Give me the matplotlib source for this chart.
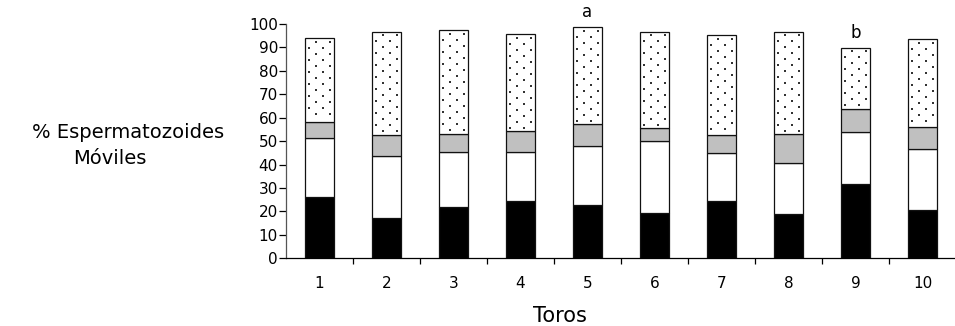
import numpy as np
import matplotlib.pyplot as plt

plt.rcParams['font.family'] = ['DejaVu Sans']

toros = ['1', '2', '3', '4', '5', '6', '7', '8', '9', '10']
# cumulative tops of each stacked segment (% motile sperm)
negro = [26.3, 17.1, 21.8, 24.6, 22.9, 19.5, 24.6, 18.9, 31.9, 20.6]
blanco_top = [51.3, 43.7, 45.5, 45.5, 47.9, 50.2, 44.8, 40.8, 53.8, 46.7]
gris_top = [58.3, 52.5, 53.1, 54.3, 57.2, 55.5, 52.5, 53.1, 63.6, 56.0]
punteado_top = [93.9, 96.7, 97.4, 95.7, 98.6, 96.7, 95.3, 96.7, 89.9, 93.5]
letras = {5: 'a', 9: 'b'}

negro = np.array(negro)
blanco_top = np.array(blanco_top)
gris_top = np.array(gris_top)
punteado_top = np.array(punteado_top)

x = np.arange(1, len(toros) + 1)
w = 0.42
W, H = 955, 326

fig = plt.figure(figsize=(W / 100, H / 100), dpi=100)
pos = [286 / W, 1 - 258.3 / H, 670 / W, 234.3 / H]
ax = fig.add_axes(pos)
ax.set_xlim(0.5, 10.5)
ax.set_ylim(0, 100)

ec = '#111111'
ax.bar(x, negro, w, color='black', edgecolor=ec, linewidth=0.9)
ax.bar(x, blanco_top - negro, w, bottom=negro, color='white', edgecolor=ec, linewidth=0.9)
ax.bar(x, gris_top - blanco_top, w, bottom=blanco_top, color='#c0c0c0', edgecolor=ec, linewidth=0.9)
ax.bar(x, punteado_top - gris_top, w, bottom=gris_top, color='white', edgecolor=ec, linewidth=0.9)

# dotted fill texture for the top segment (spacing in pixels)
pxx = pos[2] * W / 10.0
pxy = pos[3] * H / 100.0
dx, dy = 7.0 / pxx, 6.0 / pxy
dots_x, dots_y = [], []
for xi, lo, hi in zip(x, gris_top, punteado_top):
    left = xi - w / 2
    yy = hi - 3.5 / pxy
    r = 0
    while yy > lo + 2.0 / pxy:
        for k in range(4):
            if k % 2 != r % 2:
                dots_x.append(left + (4.0 / pxx) + k * dx)
                dots_y.append(yy)
        yy -= dy
        r += 1
ax.scatter(dots_x, dots_y, s=1.0, marker='s', color='#333333', linewidths=0, zorder=3)

for k, t in letras.items():
    ax.text(k, punteado_top[k - 1] + 4.3, t, ha='center', va='baseline', fontsize=12)

ax.set_yticks(range(0, 101, 10))
ax.set_xticks(x)
ax.set_xticklabels(toros)
ax.set_xticks(np.arange(1.5, 10.5, 1), minor=True)
ax.tick_params(axis='x', which='major', length=0, pad=13, labelsize=11)
ax.tick_params(axis='x', which='minor', length=4.5, width=0.9)
ax.tick_params(axis='y', length=4.8, width=0.9, labelsize=11, pad=1)
for s in ['top', 'right']:
    ax.spines[s].set_visible(False)
ax.spines['left'].set_color('#555555')
ax.spines['left'].set_linewidth(0.9)
ax.spines['bottom'].set_linewidth(0.9)

fig.text(128 / W, 1 - 133 / H, '% Espermatozoides', ha='center', va='center', fontsize=14)
fig.text(110 / W, 1 - 158 / H, 'Móviles', ha='center', va='center', fontsize=14)
fig.text(560 / W, 1 - 316 / H, 'Toros', ha='center', va='center', fontsize=15)

fig.savefig('out.png', dpi=100)
